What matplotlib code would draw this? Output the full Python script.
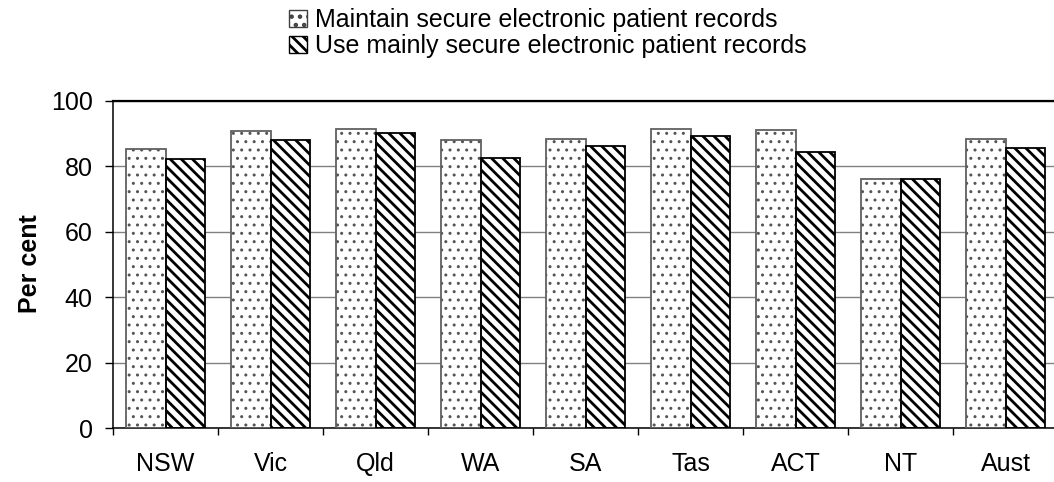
import matplotlib
matplotlib.use("Agg")
import matplotlib.pyplot as plt
from matplotlib.patches import Patch
import numpy as np

plt.rcParams['font.family'] = ['Liberation Sans', 'DejaVu Sans']

categories = ["NSW", "Vic", "Qld", "WA", "SA", "Tas", "ACT", "NT", "Aust"]
maintain = [85.3, 90.6, 91.3, 88.0, 88.4, 91.5, 91.0, 76.0, 88.4]
use_mainly = [82.1, 87.9, 90.0, 82.6, 86.1, 89.1, 84.3, 76.0, 85.6]
series_labels = ["Maintain secure electronic patient records",
                 "Use mainly secure electronic patient records"]
y_ticks = [0, 20, 40, 60, 80, 100]

W, H = 1054, 482
fig = plt.figure(figsize=(W / 100, H / 100), dpi=100)
ax = fig.add_axes([113 / W, 1 - 428 / H, 945 / W, (428 - 100.7) / H])

x = np.arange(len(categories))
bw = 0.376

def style(bars, hatch, hcol, lw):
    for b in bars:
        b.set_hatch(hatch)
        b.set_edgecolor(hcol)
        if hasattr(b, "set_hatch_linewidth"):
            b.set_hatch_linewidth(lw)

plt.rcParams['hatch.linewidth'] = 1.0
b1 = ax.bar(x - bw / 2, maintain, bw, color="white", linewidth=0, zorder=2)
style(b1, "..", "#555555", 1.0)
ax.bar(x - bw / 2, maintain, bw, fill=False, edgecolor="#606060", linewidth=1.3, zorder=3)

plt.rcParams['hatch.linewidth'] = 2.0
b2 = ax.bar(x + bw / 2, use_mainly, bw, color="white", linewidth=0, zorder=2)
style(b2, "\\\\\\", "black", 2.0)
ax.bar(x + bw / 2, use_mainly, bw, fill=False, edgecolor="black", linewidth=1.3, zorder=3)

ax.set_xlim(-0.5, len(categories) - 0.5)
ax.set_ylim(0, 100)
ax.set_yticks(y_ticks)
ax.set_yticklabels([str(v) for v in y_ticks], fontsize=18)
ax.yaxis.grid(True, color="#808080", linewidth=1.0, zorder=0)
ax.set_axisbelow(True)

ax.set_xticks(x)
ax.set_xticklabels(categories, fontsize=18)
ax.set_xticks(np.arange(-0.5, len(categories) + 0.5, 1), minor=True)
ax.tick_params(axis="x", which="major", length=0, pad=17)
ax.tick_params(axis="x", which="minor", length=5, width=1, direction="out", color="black")
ax.tick_params(axis="y", length=5.5, width=1, direction="out", pad=9)

for s in ["left", "bottom", "top"]:
    ax.spines[s].set_color("black")
    ax.spines[s].set_linewidth(1.1)
ax.spines["top"].set_linewidth(1.6)
ax.spines["right"].set_visible(False)

fig.text(30 / W, 1 - 264 / H, "Per cent", rotation=90, fontsize=18,
         fontweight="bold", ha="center", va="center")

h1 = Patch(facecolor="white", edgecolor="#404040", hatch="..", linewidth=1)
h2 = Patch(facecolor="white", edgecolor="black", hatch="\\\\\\", linewidth=1)
fig.legend([h1, h2], series_labels, loc="upper left",
           bbox_to_anchor=(289 / W, 1 - 8 / H), frameon=False, fontsize=18,
           handlelength=0.7, handleheight=0.7, handletextpad=0.35,
           labelspacing=0.08, borderpad=0, borderaxespad=0)

fig.savefig("out.png", dpi=100)
